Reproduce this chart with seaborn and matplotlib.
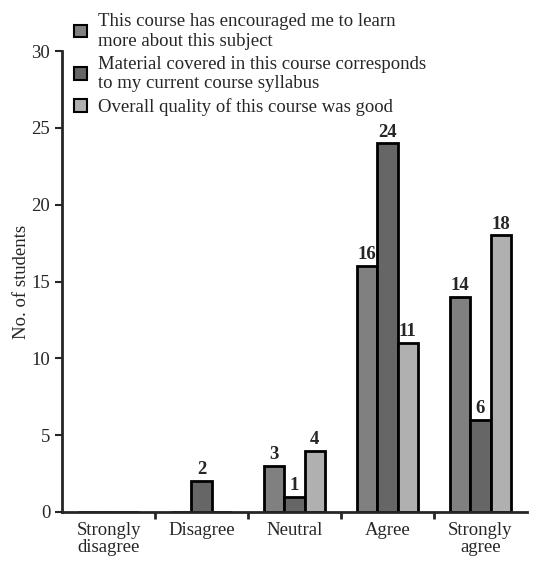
import matplotlib
matplotlib.use("Agg")
import matplotlib.pyplot as plt
import seaborn as sns
import pandas as pd

categories = ["Strongly\ndisagree", "Disagree", "Neutral", "Agree", "Strongly\nagree"]
statements = [
    "This course has encouraged me to learn\nmore about this subject",
    "Material covered in this course corresponds\nto my current course syllabus",
    "Overall quality of this course was good",
]
encouraged = [0, 0, 3, 16, 14]
syllabus = [0, 2, 1, 24, 6]
quality = [0, 0, 4, 11, 18]
colors = ["#808080", "#666666", "#b0b0b0"]

sns.set_style("ticks")
plt.rcParams["font.family"] = ["Liberation Serif", "DejaVu Serif"]
fs = 13.5

rows = []
for stmt, vals in zip(statements, [encouraged, syllabus, quality]):
    for cat, v in zip(categories, vals):
        rows.append({"response": cat, "statement": stmt, "students": v})
df = pd.DataFrame(rows)

fig = plt.figure(figsize=(5.35, 5.62), dpi=100)
ax = fig.add_axes([0.116, 0.089, 0.869, 0.82])

sns.barplot(data=df, x="response", y="students", hue="statement",
            order=categories, hue_order=statements, palette=colors,
            width=0.65, edgecolor="black", linewidth=2, ax=ax)

for cont in ax.containers:
    labels = [str(int(b.get_height())) if b.get_height() > 0 else "" for b in cont]
    ax.bar_label(cont, labels=labels, padding=2, fontsize=fs, fontweight="bold")

ax.set_ylim(0, 30)
ax.set_xlim(-0.5, 4.5)
ax.set_yticks(range(0, 31, 5))
ax.set_ylabel("No. of students", fontsize=fs, labelpad=1)
ax.set_xlabel("")
ax.set_xticks(range(len(categories)))
ax.set_xticklabels(categories, fontsize=fs, linespacing=1.05)
ax.set_xticks([0.5, 1.5, 2.5, 3.5], minor=True)
ax.tick_params(axis="x", which="major", length=0, pad=7)
ax.tick_params(axis="x", which="minor", length=5, width=2, direction="out")
ax.tick_params(axis="y", length=5, width=1.5, labelsize=fs)
sns.despine(ax=ax)
for s in ["left", "bottom"]:
    ax.spines[s].set_linewidth(2)

leg = ax.legend(loc="upper left", bbox_to_anchor=(0.118, 0.997), bbox_transform=fig.transFigure,
                frameon=False, fontsize=fs, handlelength=0.65, handleheight=0.65,
                handletextpad=0.6, labelspacing=0.32, borderaxespad=0.2)
for h in leg.legend_handles:
    h.set_linewidth(1.5)
for t in leg.get_texts():
    t.set_linespacing(1.2)

fig.savefig("out.png", dpi=100)
